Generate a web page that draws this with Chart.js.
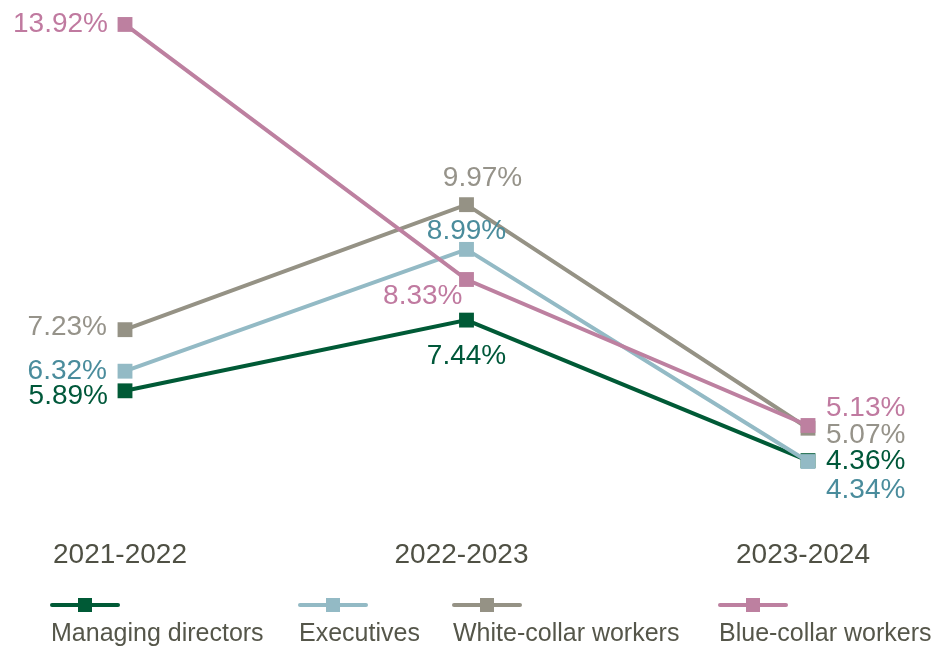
<!DOCTYPE html>
<html>
<head>
<meta charset="utf-8">
<script src="https://cdn.jsdelivr.net/npm/chart.js@4/dist/chart.umd.min.js"></script>
<style>
  html, body { margin: 0; padding: 0; background: #fff; }
  #wrap { width: 943px; height: 646px; position: relative; }
</style>
</head>
<body>
<div id="wrap"><canvas id="chart"></canvas></div>
<script>
// ── data ─────────────────────────────────────────────
const categories        = ['2021-2022', '2022-2023', '2023-2024'];
const seriesNames       = ['Managing directors', 'Executives', 'White-collar workers', 'Blue-collar workers'];
const managingDirectors = [5.89, 7.44, 4.36];
const executives        = [6.32, 8.99, 4.34];
const whiteCollar       = [7.23, 9.97, 5.07];
const blueCollar        = [13.92, 8.33, 5.13];

// ── styling ──────────────────────────────────────────
const lineColors  = ['#005a36', '#93bac5', '#959285', '#bd80a0'];
const labelColors = ['#00583a', '#4a8c9c', '#96938a', '#c07aa0'];
// label placement per series / point: [dx, dy, align]
const labelPos = [
  [[-17, 5, 'right'], [0, 36, 'center'], [18, 1, 'left']],
  [[-18, 0, 'right'], [0, -18, 'center'], [18, 29, 'left']],
  [[-18, -2, 'right'], [16, -26, 'center'], [18, 7, 'left']],
  [[-17, 0, 'right'], [-4, 17, 'right'], [18, -17, 'left']],
];
const legendX = [52, 300, 454, 720];
const FONT = '"Liberation Sans", Arial, sans-serif';

const valueLabels = {
  id: 'valueLabels',
  afterDatasetsDraw(chart) {
    const ctx = chart.ctx;
    ctx.save();
    ctx.font = '28px ' + FONT;
    ctx.textBaseline = 'middle';
    chart.data.datasets.forEach((ds, i) => {
      const meta = chart.getDatasetMeta(i);
      meta.data.forEach((pt, j) => {
        const [dx, dy, align] = labelPos[i][j];
        ctx.fillStyle = labelColors[i];
        ctx.textAlign = align;
        ctx.fillText(ds.data[j].toFixed(2) + '%', pt.x + dx, pt.y + dy);
      });
    });
    ctx.restore();
  }
};

const bottomLegend = {
  id: 'bottomLegend',
  afterDraw(chart) {
    const ctx = chart.ctx;
    ctx.save();
    seriesNames.forEach((name, i) => {
      const x = legendX[i];
      ctx.strokeStyle = lineColors[i];
      ctx.lineWidth = 4;
      ctx.lineCap = 'round';
      ctx.beginPath();
      ctx.moveTo(x, 605);
      ctx.lineTo(x + 66, 605);
      ctx.stroke();
      ctx.fillStyle = lineColors[i];
      ctx.fillRect(x + 26, 598, 14, 14);
      ctx.fillStyle = '#55564a';
      ctx.font = '25px ' + FONT;
      ctx.textAlign = 'left';
      ctx.textBaseline = 'middle';
      ctx.fillText(name, x - 1, 634);
    });
    ctx.restore();
  }
};

const mk = (i, data, order) => ({
  label: seriesNames[i],
  data,
  borderColor: lineColors[i],
  backgroundColor: lineColors[i],
  borderWidth: 4,
  pointStyle: 'rect',
  pointRadius: 10.5,
  pointBorderWidth: 0,
  tension: 0,
  clip: false,
  order,
});

new Chart(document.getElementById('chart'), {
  type: 'line',
  data: {
    labels: categories,
    datasets: [
      mk(0, managingDirectors, 3),
      mk(1, executives, 1),
      mk(2, whiteCollar, 2),
      mk(3, blueCollar, 0),
    ],
  },
  options: {
    responsive: true,
    maintainAspectRatio: false,
    animation: false,
    layout: { padding: { left: 125, right: 135, top: 0, bottom: 48 } },
    plugins: { legend: { display: false }, tooltip: { enabled: false } },
    scales: {
      x: {
        offset: false,
        grid: { display: false, drawTicks: false },
        border: { display: false },
        ticks: { padding: 26, labelOffset: -5, color: '#4f5044', font: { size: 28, family: FONT } },
      },
      y: {
        display: false,
        min: 3.225,
        max: 14.226,
      },
    },
  },
  plugins: [valueLabels, bottomLegend],
});
</script>
</body>
</html>
